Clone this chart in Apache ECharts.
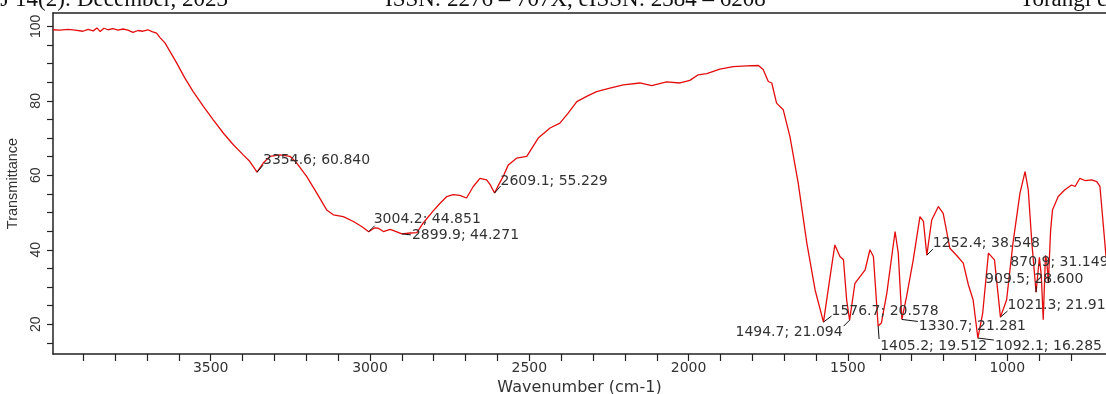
<!DOCTYPE html>
<html>
<head>
<meta charset="utf-8">
<script src="https://cdn.jsdelivr.net/npm/echarts@6/dist/echarts.min.js"></script>
<style>
  html, body { margin: 0; padding: 0; background: #fff; }
  #chart { width: 1106px; height: 394px; }
</style>
</head>
<body>
<div id="chart"></div>
<script>
// FTIR spectrum: wavenumber (cm-1) against % transmittance
const spectrumWavenumber = [
  3995, 3973, 3948, 3926, 3901, 3885, 3869, 3857, 3847, 3835, 3822, 3807, 3791, 3775, 3760,
  3744, 3728, 3713, 3697, 3684, 3670, 3659, 3643, 3628, 3607, 3581, 3555, 3523, 3492, 3460,
  3429, 3398, 3377, 3354.6, 3335, 3314, 3283, 3251, 3230, 3199, 3167, 3136, 3115, 3084, 3052,
  3025, 3004.2, 2985, 2974, 2958, 2937, 2918, 2899.9, 2874, 2853, 2833, 2801, 2780, 2759, 2739,
  2718, 2697, 2676, 2655, 2634, 2623, 2609.1, 2596, 2582, 2566, 2540, 2508, 2472, 2435, 2404,
  2378, 2351, 2320, 2289, 2247, 2205, 2153, 2116, 2069, 2027, 1996, 1970, 1943, 1902, 1860,
  1818, 1781, 1766, 1750, 1739, 1724, 1703, 1682, 1656, 1629, 1603, 1576.7, 1556, 1541, 1525,
  1514, 1504, 1494.7, 1478, 1462, 1446, 1431, 1420, 1405.2, 1395, 1378, 1352, 1342, 1330.7, 1316,
  1295, 1274, 1263, 1252.4, 1237, 1216, 1201, 1180, 1160, 1138, 1122, 1107, 1092.1, 1077, 1059,
  1040, 1021.3, 1002, 982, 960, 944, 934, 923, 909.5, 899, 893, 887, 880, 876, 870.9,
  864, 858, 840, 819, 798, 787, 772, 756, 735, 719, 709, 698, 690
];
const spectrumTransmittance = [
  99.1, 99.0, 99.2, 99.0, 98.7, 99.2, 98.8, 99.6, 98.6, 99.5, 99.1, 99.4, 99.0, 99.3, 99.0,
  98.4, 98.9, 98.7, 99.1, 98.6, 98.2, 97.0, 95.5, 93.3, 90.2, 86.1, 82.5, 78.5, 74.9, 71.3,
  68.2, 65.5, 63.7, 60.84, 63.3, 65.1, 65.5, 65.1, 63.3, 59.7, 55.2, 50.7, 49.4, 48.9, 47.6,
  46.2, 44.851, 45.9, 45.8, 44.9, 45.5, 44.9, 44.271, 44.5, 44.6, 47.2, 50.5, 52.5, 54.3, 54.8,
  54.6, 53.9, 57.0, 59.2, 58.8, 57.5, 55.229, 57.5, 59.7, 62.8, 64.6, 65.1, 70.0, 72.7, 74.0,
  76.7, 79.8, 81.2, 82.5, 83.4, 84.3, 84.8, 84.1, 85.1, 84.8, 85.5, 87.0, 87.3, 88.5, 89.2,
  89.4, 89.5, 88.4, 85.2, 84.8, 79.4, 77.6, 70.4, 57.9, 41.8, 29.2, 20.578, 32.8, 41.3, 38.2,
  37.3, 26.5, 21.094, 31.0, 32.8, 34.6, 40.0, 38.2, 19.512, 20.3, 28.3, 44.9, 39.1, 21.281, 27.4,
  37.3, 48.9, 47.6, 38.548, 48.0, 51.6, 49.8, 40.4, 38.6, 36.4, 30.6, 26.5, 16.285, 23.0, 39.1,
  37.3, 21.91, 26.5, 41.8, 55.2, 61.0, 56.1, 42.2, 28.6, 38.0, 33.0, 21.2, 38.5, 37.0, 31.149,
  45.0, 50.7, 54.3, 56.1, 57.4, 57.0, 59.2, 58.6, 58.8, 58.3, 57.0, 46.2, 38.2
];

// Picked peaks
const peakWavenumber = [3354.6, 3004.2, 2899.9, 2609.1, 1576.7, 1494.7, 1405.2, 1330.7, 1252.4, 1092.1, 1021.3, 909.5, 870.9];
const peakTransmittance = [60.840, 44.851, 44.271, 55.229, 20.578, 21.094, 19.512, 21.281, 38.548, 16.285, 21.910, 28.600, 31.149];

// Axis ticks and labels
const xTickValues = [3900, 3800, 3700, 3600, 3500, 3400, 3300, 3200, 3100, 3000, 2900, 2800, 2700, 2600, 2500,
  2400, 2300, 2200, 2100, 2000, 1900, 1800, 1700, 1600, 1500, 1400, 1300, 1200, 1100, 1000, 900, 800];
const xLabelValues = [3500, 3000, 2500, 2000, 1500, 1000];
const yTickValues = [15, 20, 25, 30, 35, 40, 45, 50, 55, 60, 65, 70, 75, 80, 85, 90, 95, 100];
const yLabelValues = [20, 40, 60, 80, 100];

// Leader line end (lx, ly) and text anchor (tx, ty) relative to each peak, in px
const peakLabelLayout = [
  { lx: 6,  ly: -7, tx: 6,   ty: -12, align: 'left' },
  { lx: 6,  ly: -6, tx: 5,   ty: -12, align: 'left' },
  { lx: 9,  ly: 1,  tx: 10,  ty: 1,   align: 'left' },
  { lx: 6,  ly: -7, tx: 6,   ty: -12, align: 'left' },
  { lx: 8,  ly: -6, tx: 8,   ty: -11, align: 'left' },
  { lx: -6, ly: 6,  tx: -7,  ty: 12,  align: 'right' },
  { lx: 1,  ly: 13, tx: 2,   ty: 20,  align: 'left' },
  { lx: 16, ly: 2,  tx: 17,  ty: 7,   align: 'left' },
  { lx: 6,  ly: -6, tx: 6,   ty: -12, align: 'left' },
  { lx: 16, ly: 2,  tx: 17,  ty: 8,   align: 'left' },
  { lx: 7,  ly: -6, tx: 7,   ty: -12, align: 'left' },
  { lx: 0,  ly: -6, tx: -51, ty: -13, align: 'left' },
  { lx: 0,  ly: -6, tx: -38, ty: -20, align: 'left' }
];

const spectrum = spectrumWavenumber.map((w, i) => [w, spectrumTransmittance[i]]);
const peaks = peakWavenumber.map((w, i) => [w, peakTransmittance[i]]);

const axisColor = '#222';
const plainNumber = v => String(v);
const chart = echarts.init(document.getElementById('chart'), null, { renderer: 'canvas' });

chart.setOption({
  animation: false,
  backgroundColor: '#fff',
  grid: { left: 53, right: 0, top: 13, bottom: 40, containLabel: false, outerBoundsMode: 'none' },
  graphic: [
    { type: 'text', x: 228, y: 0, style: { text: 'ChemSearch J 14(2): December, 2023', fill: '#111',
      font: '23px "Liberation Serif"', align: 'right', verticalAlign: 'middle' } },
    { type: 'text', x: 385, y: 0, style: { text: 'ISSN: 2276 – 707X, eISSN: 2384 – 6208', fill: '#111',
      font: '23px "Liberation Serif"', align: 'left', verticalAlign: 'middle' } },
    { type: 'text', x: 1020, y: 0, style: { text: 'Torangi et al.', fill: '#111',
      font: '23px "Liberation Serif"', align: 'left', verticalAlign: 'middle' } }
  ],
  xAxis: [
    {
      type: 'value', inverse: true, min: 690, max: 3995,
      name: 'Wavenumber (cm-1)', nameLocation: 'middle', nameGap: 25,
      nameTextStyle: { fontFamily: 'DejaVu Sans', fontSize: 16, color: '#333' },
      axisLine: { show: true, lineStyle: { color: axisColor, width: 1.5 } },
      axisTick: { show: true, customValues: xTickValues, length: 7, inside: false,
        lineStyle: { color: axisColor, width: 1.2 } },
      axisLabel: { customValues: xLabelValues, formatter: plainNumber, margin: 7,
        fontFamily: 'DejaVu Sans', fontSize: 14, color: '#333' },
      splitLine: { show: false }
    },
    {
      type: 'value', inverse: true, min: 690, max: 3995, position: 'top',
      axisLine: { show: true, lineStyle: { color: axisColor, width: 1.5 } },
      axisTick: { show: false }, axisLabel: { show: false }, splitLine: { show: false }
    }
  ],
  yAxis: {
    type: 'value', min: 12, max: 103.6,
    name: 'Transmittance', nameLocation: 'middle', nameGap: 33, nameRotate: 90,
    nameTextStyle: { fontFamily: 'Liberation Sans', fontSize: 14.5, color: '#333' },
    axisLine: { show: true, lineStyle: { color: axisColor, width: 1.5 } },
    axisTick: { show: true, customValues: yTickValues, length: 6, inside: false,
      lineStyle: { color: axisColor, width: 1.2 } },
    axisLabel: { customValues: yLabelValues, formatter: plainNumber, rotate: 90, margin: 10,
      fontFamily: 'Liberation Sans', fontSize: 14, color: '#333' },
    splitLine: { show: false }
  },
  series: [
    {
      type: 'line', data: spectrum, xAxisIndex: 0, showSymbol: false, smooth: false,
      lineStyle: { color: '#e30d0d', width: 1.3 }, z: 2
    },
    {
      type: 'custom', data: peaks, xAxisIndex: 0, clip: false, z: 3,
      renderItem: function (params, api) {
        const i = params.dataIndex;
        const w = api.value(0), t = api.value(1);
        const p = api.coord([w, t]);
        const o = peakLabelLayout[i];
        return {
          type: 'group',
          children: [
            { type: 'line', shape: { x1: p[0], y1: p[1], x2: p[0] + o.lx, y2: p[1] + o.ly },
              style: { stroke: '#111', lineWidth: 1 } },
            { type: 'text', x: p[0] + o.tx, y: p[1] + o.ty,
              style: { text: w.toFixed(1) + '; ' + t.toFixed(3), fill: '#333',
                font: '14px "DejaVu Sans"', align: o.align, verticalAlign: 'middle' } }
          ]
        };
      }
    }
  ]
});
</script>
</body>
</html>
